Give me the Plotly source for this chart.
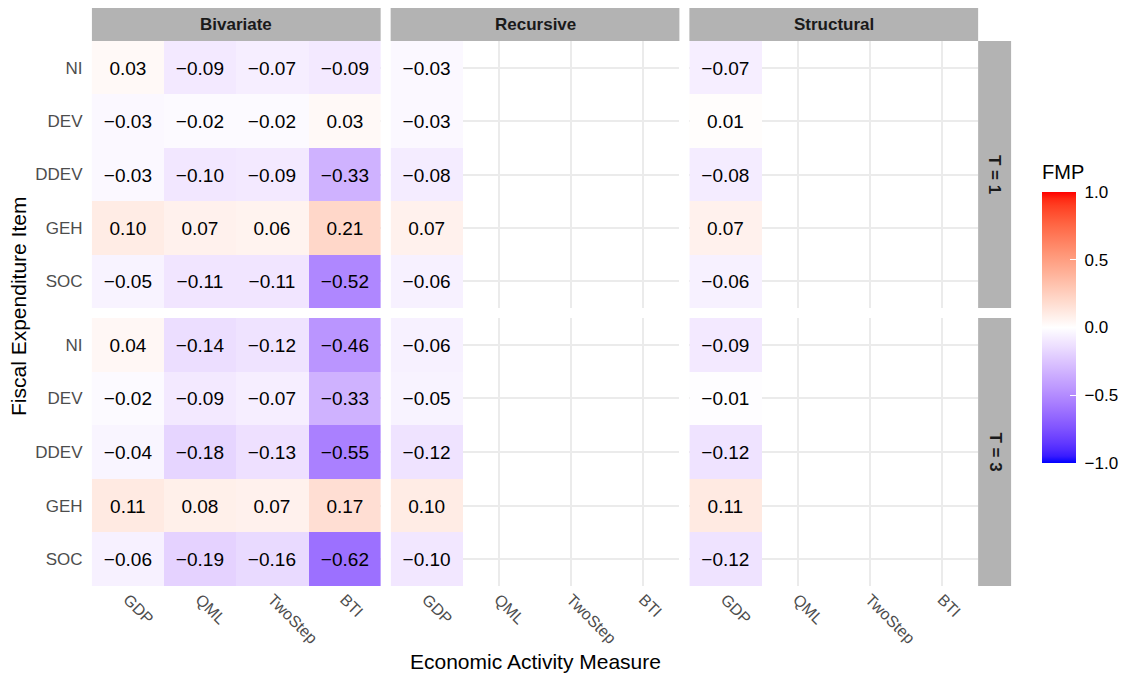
import math
import plotly.graph_objects as go

# Category orders
measures = ["GDP", "QML", "TwoStep", "BTI"]
items = ["NI", "DEV", "DDEV", "GEH", "SOC"]
models = ["Bivariate", "Recursive", "Structural"]
horizons = ["T = 1", "T = 3"]

# FMP estimates, rows follow `items`, columns follow `measures`
biv_t1 = [
    [0.03, -0.09, -0.07, -0.09],
    [-0.03, -0.02, -0.02, 0.03],
    [-0.03, -0.10, -0.09, -0.33],
    [0.10, 0.07, 0.06, 0.21],
    [-0.05, -0.11, -0.11, -0.52],
]
biv_t3 = [
    [0.04, -0.14, -0.12, -0.46],
    [-0.02, -0.09, -0.07, -0.33],
    [-0.04, -0.18, -0.13, -0.55],
    [0.11, 0.08, 0.07, 0.17],
    [-0.06, -0.19, -0.16, -0.62],
]
# Recursive / Structural models only use GDP
rec_t1 = [-0.03, -0.03, -0.08, 0.07, -0.06]
rec_t3 = [-0.06, -0.05, -0.12, 0.10, -0.10]
str_t1 = [-0.07, 0.01, -0.08, 0.07, -0.06]
str_t3 = [-0.09, -0.01, -0.12, 0.11, -0.12]

colorbar_ticks = [-1.0, -0.5, 0.0, 0.5, 1.0]


def gdp_only(col):
    return [[v, None, None, None] for v in col]


panels = {
    (0, 0): biv_t1, (0, 1): gdp_only(rec_t1), (0, 2): gdp_only(str_t1),
    (1, 0): biv_t3, (1, 1): gdp_only(rec_t3), (1, 2): gdp_only(str_t3),
}


# ---- diverging blue-white-red scale interpolated in CIE Lab ----
def _to_lin(c):
    c = c / 255.0
    return c / 12.92 if c <= 0.04045 else ((c + 0.055) / 1.055) ** 2.4


def _from_lin(c):
    c = 12.92 * c if c <= 0.0031308 else 1.055 * c ** (1 / 2.4) - 0.055
    return max(0, min(255, round(c * 255)))


WX, WY, WZ = 0.95047, 1.0, 1.08883


def rgb2lab(rgb):
    r, g, b = (_to_lin(v) for v in rgb)
    x = (0.4124 * r + 0.3576 * g + 0.1805 * b) / WX
    y = (0.2126 * r + 0.7152 * g + 0.0722 * b) / WY
    z = (0.0193 * r + 0.1192 * g + 0.9505 * b) / WZ

    def f(t):
        return t ** (1 / 3) if t > 216 / 24389 else (24389 / 27 * t + 16) / 116

    fx, fy, fz = f(x), f(y), f(z)
    return (116 * fy - 16, 500 * (fx - fy), 200 * (fy - fz))


def lab2rgb(lab):
    L, a, b = lab
    fy = (L + 16) / 116
    fx = fy + a / 500
    fz = fy - b / 200

    def finv(t):
        return t ** 3 if t ** 3 > 216 / 24389 else (116 * t - 16) / (24389 / 27)

    x, y, z = finv(fx) * WX, finv(fy) * WY, finv(fz) * WZ
    r = 3.2406 * x - 1.5372 * y - 0.4986 * z
    g = -0.9689 * x + 1.8758 * y + 0.0415 * z
    bb = 0.0557 * x - 0.2040 * y + 1.0570 * z
    return tuple(_from_lin(max(0.0, v)) for v in (r, g, bb))


low, mid, high = rgb2lab((0, 0, 255)), rgb2lab((255, 255, 255)), rgb2lab((255, 0, 0))
colorscale = []
n = 40
for i in range(n + 1):
    t = i / n
    if t <= 0.5:
        a, b_, u = low, mid, t / 0.5
    else:
        a, b_, u = mid, high, (t - 0.5) / 0.5
    lab = tuple(a[k] + (b_[k] - a[k]) * u for k in range(3))
    r, g, b = lab2rgb(lab)
    colorscale.append([t, f"rgb({r},{g},{b})"])


def fmt(v, digits=2):
    if v is None:
        return ""
    s = f"{abs(v):.{digits}f}"
    return ("\u2212" + s) if v < 0 else s


W, H = 1124, 675
col_px = [(92, 381), (391, 680), (690, 979)]
row_px = [(41, 308), (318, 586)]

FONT = "Liberation Sans, Arial, sans-serif"
GRID = "#EBEBEB"
STRIP = "#B3B3B3"
TICK_COL = "#4D4D4D"

fig = go.Figure()
shapes, annotations = [], []

for (r, c), z in panels.items():
    k = r * 3 + c + 1
    xa = "x" if k == 1 else f"x{k}"
    ya = "y" if k == 1 else f"y{k}"
    text = [[fmt(v) for v in row] for row in z]
    fig.add_trace(go.Heatmap(
        x=measures, y=items, z=z, text=text,
        texttemplate="%{text}",
        textfont=dict(size=19, color="black", family=FONT),
        coloraxis="coloraxis", xgap=0, ygap=0,
        hoverongaps=False, xaxis=xa, yaxis=ya,
    ))
    x0, x1 = col_px[c]
    y0, y1 = row_px[r]
    xkey = "xaxis" if k == 1 else f"xaxis{k}"
    ykey = "yaxis" if k == 1 else f"yaxis{k}"
    fig.layout[xkey] = dict(
        domain=[x0 / W, x1 / W], anchor=ya, type="category",
        categoryorder="array", categoryarray=measures, range=[-0.5, 3.5],
        showgrid=True, gridcolor=GRID, gridwidth=1.5, zeroline=False,
        showline=False, showticklabels=(r == 1), tickangle=45,
        ticks="", ticklen=0,
        tickfont=dict(size=16, color=TICK_COL, family=FONT),
        fixedrange=True,
    )
    fig.layout[ykey] = dict(
        domain=[1 - y1 / H, 1 - y0 / H], anchor=xa, type="category",
        categoryorder="array", categoryarray=items, range=[4.5, -0.5],
        showgrid=True, gridcolor=GRID, gridwidth=1.5, zeroline=False,
        showline=False, showticklabels=(c == 0),
        ticks="outside", ticklen=5, tickcolor="rgba(0,0,0,0)",
        tickfont=dict(size=17, color=TICK_COL, family=FONT),
        fixedrange=True,
    )

# Facet strips: model names across the top
for c, name in enumerate(models):
    x0, x1 = col_px[c]
    shapes.append(dict(type="rect", xref="paper", yref="paper",
                       x0=x0 / W, x1=x1 / W, y0=1 - 41 / H, y1=1 - 8 / H,
                       fillcolor=STRIP, line=dict(width=0), layer="below"))
    annotations.append(dict(x=(x0 + x1) / 2 / W, y=1 - 24.5 / H, xref="paper", yref="paper",
                            xanchor="center", yanchor="middle",
                            text=f"<b>{name}</b>", showarrow=False,
                            font=dict(size=17, color="#1A1A1A", family=FONT)))

# Facet strips: horizons down the right side
for r, name in enumerate(horizons):
    y0, y1 = row_px[r]
    shapes.append(dict(type="rect", xref="paper", yref="paper",
                       x0=979 / W, x1=1012 / W, y0=1 - y1 / H, y1=1 - y0 / H,
                       fillcolor=STRIP, line=dict(width=0), layer="below"))
    annotations.append(dict(x=995.5 / W, y=1 - (y0 + y1) / 2 / H, xref="paper", yref="paper",
                            xanchor="center", yanchor="middle",
                            text=f"<b>{name}</b>", showarrow=False, textangle=90,
                            font=dict(size=17, color="#1A1A1A", family=FONT)))

# Axis titles
annotations.append(dict(x=536 / W, y=1 - 661 / H, xref="paper", yref="paper",
                        xanchor="center", yanchor="middle",
                        text="Economic Activity Measure", showarrow=False,
                        font=dict(size=21, color="black", family=FONT)))
annotations.append(dict(x=18 / W, y=1 - 306 / H, xref="paper", yref="paper",
                        xanchor="center", yanchor="middle",
                        text="Fiscal Expenditure Item", showarrow=False, textangle=-90,
                        font=dict(size=21, color="black", family=FONT)))
# Colour legend title
annotations.append(dict(x=1041 / W, y=1 - 172 / H, xref="paper", yref="paper",
                        xanchor="left", yanchor="middle",
                        text="FMP", showarrow=False,
                        font=dict(size=20, color="black", family=FONT)))

fig.update_layout(
    width=W, height=H,
    margin=dict(l=0, r=0, t=0, b=0),
    paper_bgcolor="white", plot_bgcolor="white",
    font=dict(family=FONT),
    shapes=shapes, annotations=annotations,
    coloraxis=dict(
        cmin=-1, cmax=1, colorscale=colorscale,
        colorbar=dict(
            x=1042 / W, xanchor="left", y=1 - 192 / H, yanchor="top",
            len=271, lenmode="pixels", thickness=34, thicknessmode="pixels",
            xpad=0, ypad=0, outlinewidth=0,
            tickvals=colorbar_ticks,
            ticktext=[" " + fmt(v, 1) for v in colorbar_ticks],
            ticks="inside", ticklen=6, tickcolor="white", tickwidth=1,
            tickfont=dict(size=17, color="black", family=FONT),
        ),
    ),
    showlegend=False,
)

fig.write_html("out.html")
